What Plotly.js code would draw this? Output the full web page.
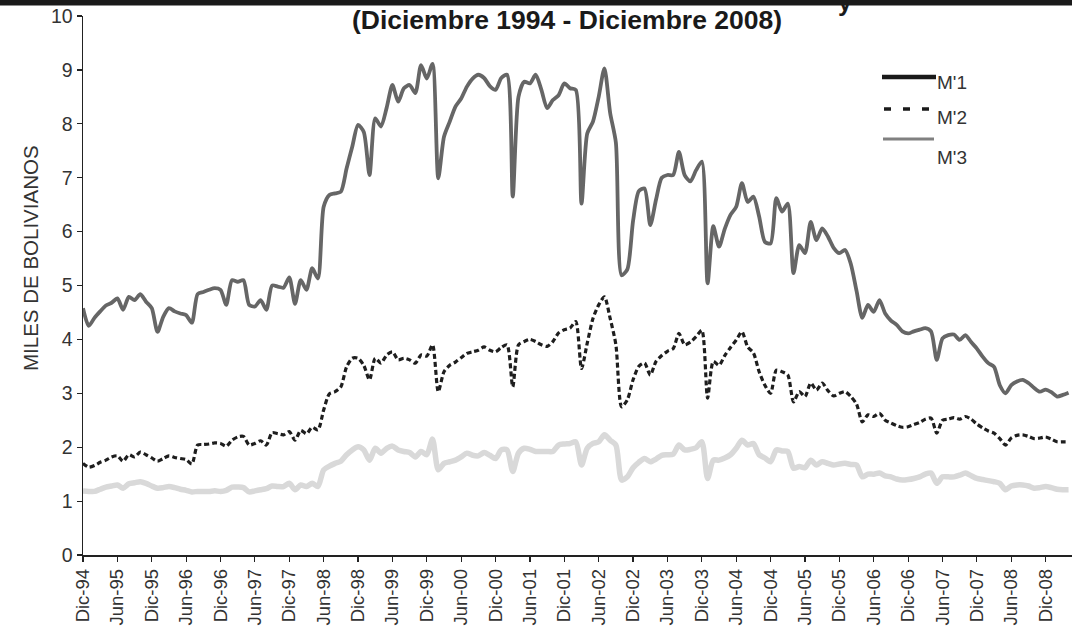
<!DOCTYPE html>
<html>
<head>
<meta charset="utf-8">
<script src="https://cdn.plot.ly/plotly-3.0.1.min.js"></script>
<style>html,body{margin:0;padding:0;background:#fff;}#chart{width:1072px;height:628px;}</style>
</head>
<body>
<div id="chart"></div>
<script>
// Tick labels every six months (Dic-94 ... Dic-08)
const tickLabels = ['Dic-94','Jun-95','Dic-95','Jun-96','Dic-96','Jun-97','Dic-97','Jun-98','Dic-98','Jun-99','Dic-99','Jun-00','Dic-00','Jun-01','Dic-01','Jun-02','Dic-02','Jun-03','Dic-03','Jun-04','Dic-04','Jun-05','Dic-05','Jun-06','Dic-06','Jun-07','Dic-07','Jun-08','Dic-08'];

// Monthly values, miles de bolivianos
const seriesM3 = [
4.58,4.25,4.40,4.52,4.63,4.68,4.76,4.55,4.79,4.73,
4.84,4.70,4.58,4.14,4.42,4.58,4.52,4.48,4.45,4.31,
4.84,4.88,4.92,4.95,4.92,4.64,5.10,5.07,5.10,4.64,
4.61,4.73,4.55,5.00,4.98,4.96,5.15,4.66,5.10,4.92,
5.32,5.13,6.46,6.68,6.71,6.74,7.17,7.58,7.98,7.85,
7.05,8.10,7.95,8.30,8.72,8.41,8.66,8.72,8.57,9.09,
8.84,9.11,6.99,7.76,8.04,8.32,8.47,8.69,8.84,8.91,
8.85,8.70,8.63,8.85,8.91,6.65,8.50,8.78,8.75,8.91,
8.63,8.29,8.44,8.53,8.75,8.66,8.63,6.52,7.82,8.04,
8.50,9.03,8.20,7.65,5.19,5.30,6.20,6.75,6.80,6.12,
6.59,7.00,7.05,7.05,7.48,7.05,6.93,7.14,7.30,5.04,
6.10,5.72,6.05,6.31,6.46,6.90,6.55,6.65,6.28,5.81,
5.78,6.62,6.37,6.52,5.23,5.75,5.60,6.18,5.84,6.06,
5.91,5.70,5.60,5.66,5.40,4.90,4.40,4.64,4.51,4.73,
4.48,4.35,4.27,4.15,4.11,4.15,4.18,4.21,4.15,3.62,
4.02,4.08,4.09,3.99,4.08,3.95,3.83,3.68,3.56,3.49,
3.15,3.00,3.15,3.22,3.25,3.19,3.10,3.03,3.07,3.02,
2.94,2.97,3.01];

const seriesM2 = [
1.70,1.63,1.66,1.72,1.76,1.82,1.84,1.74,1.86,1.82,
1.91,1.86,1.80,1.74,1.79,1.84,1.81,1.79,1.77,1.69,
2.04,2.05,2.06,2.08,2.07,2.02,2.13,2.19,2.20,2.04,
2.07,2.12,2.04,2.27,2.25,2.23,2.29,2.13,2.31,2.25,
2.37,2.32,2.69,2.99,3.03,3.12,3.49,3.65,3.65,3.52,
3.25,3.65,3.56,3.71,3.77,3.62,3.65,3.62,3.56,3.71,
3.69,3.90,3.03,3.40,3.52,3.58,3.66,3.74,3.77,3.80,
3.86,3.80,3.77,3.85,3.90,3.12,3.90,3.96,4.00,3.96,
3.90,3.87,3.96,4.12,4.18,4.21,4.33,3.46,3.93,4.39,
4.64,4.79,4.39,3.90,2.75,2.88,3.25,3.50,3.56,3.34,
3.59,3.70,3.78,3.83,4.11,3.90,3.95,4.05,4.17,2.91,
3.59,3.52,3.70,3.85,3.99,4.14,3.86,3.75,3.40,3.15,
3.00,3.43,3.40,3.34,2.84,3.03,2.94,3.19,3.06,3.19,
3.05,2.95,3.00,3.03,2.94,2.80,2.47,2.60,2.57,2.63,
2.50,2.45,2.40,2.37,2.38,2.42,2.46,2.52,2.54,2.26,
2.50,2.52,2.55,2.52,2.57,2.52,2.43,2.36,2.30,2.26,
2.16,2.04,2.17,2.22,2.23,2.20,2.16,2.17,2.19,2.15,
2.10,2.10,2.10];

const seriesM1 = [
1.19,1.18,1.18,1.22,1.26,1.28,1.30,1.24,1.32,1.34,
1.36,1.33,1.28,1.24,1.25,1.27,1.25,1.22,1.20,1.17,
1.18,1.18,1.18,1.19,1.18,1.20,1.26,1.26,1.25,1.17,
1.19,1.21,1.23,1.28,1.27,1.27,1.33,1.21,1.30,1.27,
1.33,1.27,1.58,1.65,1.70,1.74,1.86,1.95,2.01,1.95,
1.76,1.98,1.89,1.98,2.02,1.95,1.92,1.90,1.82,1.92,
1.86,2.15,1.58,1.70,1.73,1.76,1.82,1.89,1.85,1.84,
1.90,1.85,1.79,1.95,1.95,1.55,1.89,1.98,1.96,1.92,
1.92,1.92,1.92,2.04,2.06,2.07,2.10,1.67,1.98,2.07,
2.10,2.23,2.13,2.04,1.39,1.45,1.62,1.72,1.79,1.73,
1.78,1.85,1.86,1.87,2.04,1.95,1.96,1.99,2.10,1.42,
1.76,1.76,1.80,1.86,1.98,2.13,2.04,2.07,1.86,1.80,
1.73,1.95,1.93,1.92,1.61,1.64,1.62,1.76,1.67,1.73,
1.70,1.67,1.69,1.70,1.68,1.67,1.45,1.50,1.50,1.52,
1.47,1.45,1.41,1.39,1.40,1.42,1.45,1.50,1.52,1.33,
1.45,1.45,1.45,1.48,1.52,1.47,1.42,1.40,1.38,1.36,
1.33,1.21,1.28,1.30,1.30,1.28,1.24,1.25,1.27,1.25,
1.22,1.21,1.21];

const seriesNames = ["M'1", "M'2", "M'3"];
const yTitle = 'MILES DE BOLIVIANOS';
const titleText = '(Diciembre 1994 - Diciembre 2008)';

// month index for each observation
const monthIdx = seriesM3.map((_, i) => i);
const tickVals = tickLabels.map((_, i) => i * 6);

const W = 1072, H = 628;
const L = 83, R = 0, T = 16, B = 73;
const pw = W - L - R, ph = H - T - B;
const px = v => (v - L) / pw;          // pixel x -> paper x
const py = v => (H - B - v) / ph;      // pixel y -> paper y
const FONT = 'Liberation Sans, Arial, sans-serif';

const traces = [
  {x: monthIdx, y: seriesM1, name: seriesNames[0], type: 'scatter', mode: 'lines',
   line: {color: '#d9d9d9', width: 5.5, shape: 'spline', smoothing: 0.7}, showlegend: false, hoverinfo: 'skip'},
  {x: monthIdx, y: seriesM2, name: seriesNames[1], type: 'scatter', mode: 'lines',
   line: {color: '#1e1e1e', width: 3.2, dash: '5px,3px', shape: 'spline', smoothing: 0.7}, showlegend: false, hoverinfo: 'skip'},
  {x: monthIdx, y: seriesM3, name: seriesNames[2], type: 'scatter', mode: 'lines',
   line: {color: '#666666', width: 3.8, shape: 'spline', smoothing: 0.7}, showlegend: false, hoverinfo: 'skip'}
];

// legend drawn as in the original (line samples sit above the labels)
const legendRows = [
  {x0: 882, x1: 936, y: 77, color: '#1a1a1a', width: 4.5, dash: 'solid', ty: 82},
  {x0: 884, x1: 929, y: 109, color: '#1a1a1a', width: 3.5, dash: '7px,12px', ty: 118},
  {x0: 883, x1: 934, y: 139, color: '#808080', width: 3, dash: 'solid', ty: 157}
];

const shapes = [
  {type: 'rect', xref: 'paper', yref: 'paper', x0: px(0), x1: px(W), y0: py(0), y1: py(5.5),
   fillcolor: '#1a1a1a', line: {width: 0}, layer: 'above'}
];
const annotations = [
  // fragment of the cut-off first title line, visible below the black band
  {text: 'y', xref: 'paper', yref: 'paper', x: px(845), y: py(-14), xanchor: 'center', yanchor: 'top',
   showarrow: false, font: {family: FONT, size: 25, color: '#1a1a1a', weight: 'bold'}},
  {text: yTitle, xref: 'paper', yref: 'paper', x: px(30), y: py(258), xanchor: 'center', yanchor: 'middle',
   textangle: -90, showarrow: false, font: {family: FONT, size: 20.5, color: '#333333'}}
];
legendRows.forEach((r, i) => {
  shapes.push({type: 'line', xref: 'paper', yref: 'paper', x0: px(r.x0), x1: px(r.x1), y0: py(r.y), y1: py(r.y),
    line: {color: r.color, width: r.width, dash: r.dash}});
  annotations.push({text: seriesNames[i], xref: 'paper', yref: 'paper', x: px(935), y: py(r.ty),
    xanchor: 'left', yanchor: 'middle', showarrow: false, font: {family: FONT, size: 19, color: '#333333'}});
});

const layout = {
  width: W, height: H,
  margin: {l: L, r: R, t: T, b: B, pad: 0},
  paper_bgcolor: '#ffffff', plot_bgcolor: '#ffffff',
  font: {family: FONT, color: '#333333'},
  showlegend: false,
  title: {text: titleText, x: 567 / W, xref: 'container', xanchor: 'center', y: 1 - 20 / H, yanchor: 'middle',
          font: {family: FONT, size: 26.5, color: '#1a1a1a', weight: 'bold'}},
  xaxis: {range: [0, (W - L - R) / 5.73], tickvals: tickVals, ticktext: tickLabels, tickangle: -90,
          showgrid: false, zeroline: false, showline: true, linecolor: '#222222', linewidth: 1.5,
          ticks: 'outside', ticklen: 5, tickwidth: 1.2, tickcolor: '#222222',
          tickfont: {family: FONT, size: 18.5, color: '#333333'}, fixedrange: true},
  yaxis: {range: [0, 10], dtick: 1, tick0: 0, showgrid: false, zeroline: false, showline: true,
          linecolor: '#222222', linewidth: 1.5, ticks: 'outside', ticklen: 5, tickwidth: 1.2, tickcolor: '#222222',
          tickfont: {family: FONT, size: 19.5, color: '#333333'}, fixedrange: true},
  shapes: shapes,
  annotations: annotations
};

Plotly.newPlot('chart', traces, layout, {displayModeBar: false, staticPlot: true});
</script>
</body>
</html>
